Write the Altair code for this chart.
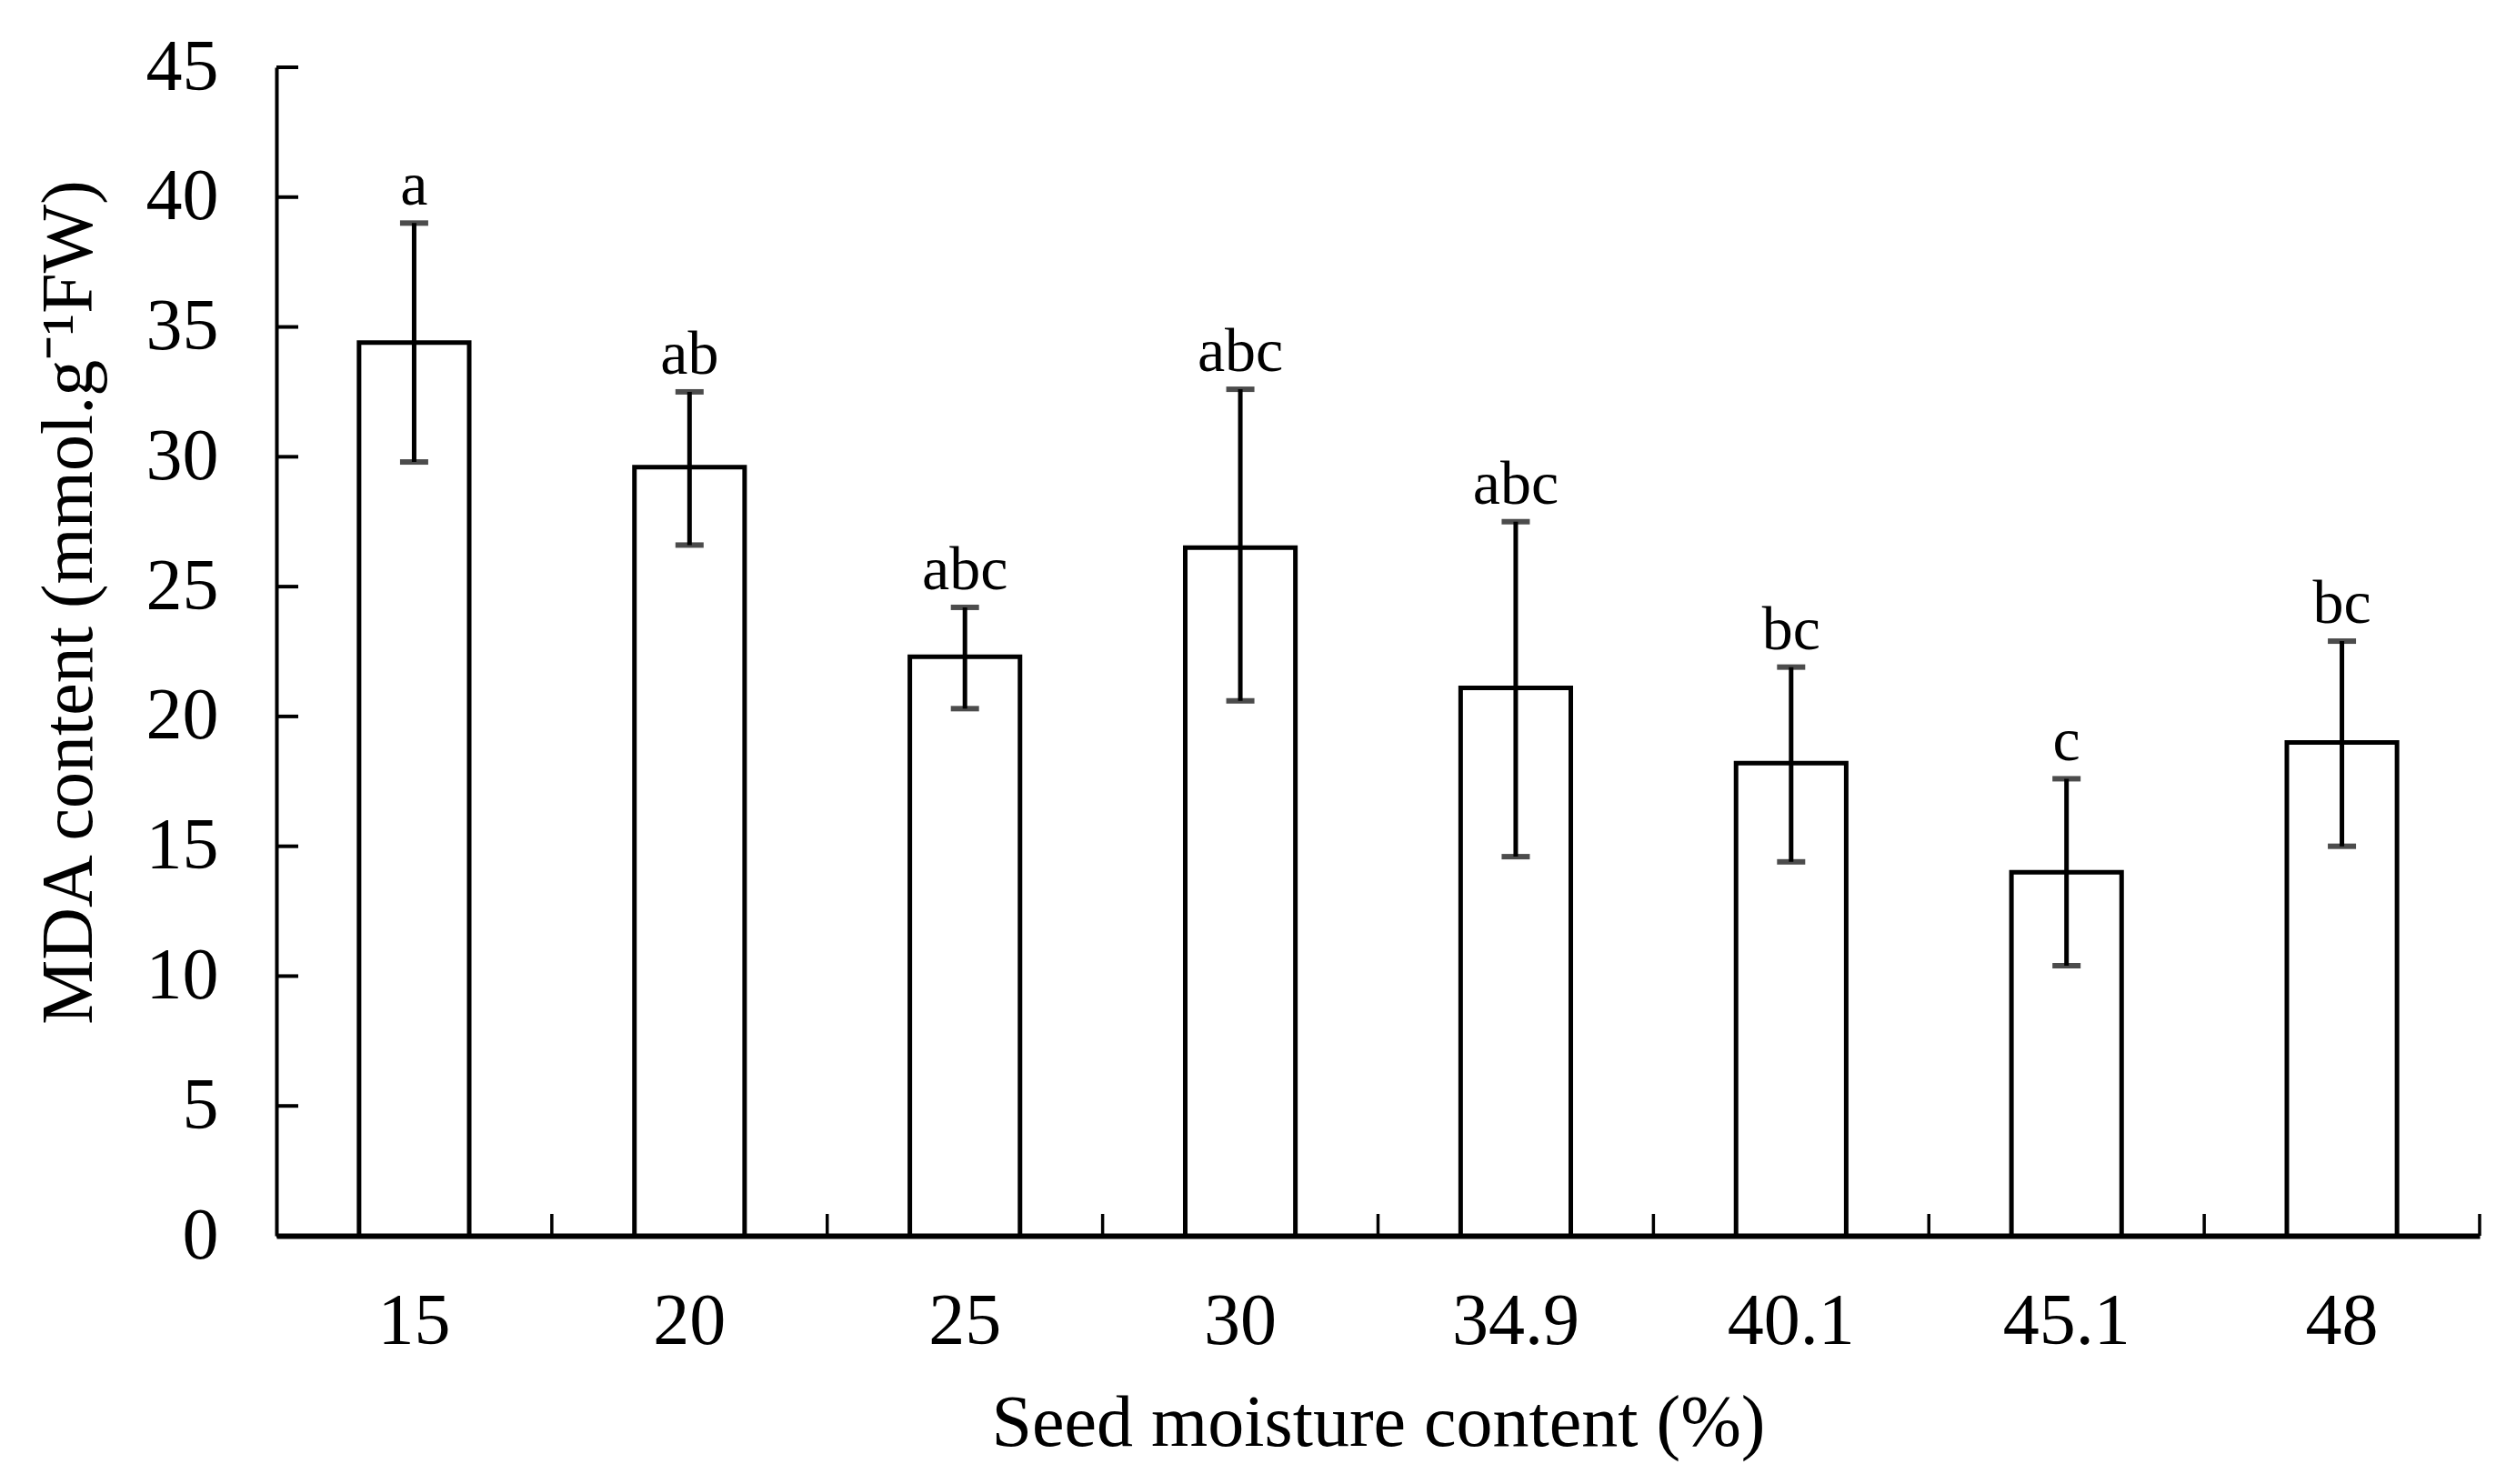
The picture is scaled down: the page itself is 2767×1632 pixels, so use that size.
import altair as alt
import pandas as pd

categories = ["15", "20", "25", "30", "34.9", "40.1", "45.1", "48"]
means = [34.4, 29.6, 22.3, 26.5, 21.1, 18.2, 14.0, 19.0]
err_hi = [39.0, 32.5, 24.2, 32.6, 27.5, 21.9, 17.6, 22.9]
err_lo = [29.8, 26.6, 20.3, 20.6, 14.6, 14.4, 10.4, 15.0]
letters = ["a", "ab", "abc", "abc", "abc", "bc", "c", "bc"]
y_ticks = [0, 5, 10, 15, 20, 25, 30, 35, 40, 45]

df = pd.DataFrame({"cat": categories, "mean": means, "hi": err_hi, "lo": err_lo, "lab": letters})
ticks_df = pd.DataFrame({"v": y_ticks})

FONT = "Liberation Serif"
W, H = 2423, 1285

xscale = alt.Scale(domain=categories, paddingInner=0, paddingOuter=0)
yscale = alt.Scale(domain=[0, 45], nice=False, zero=True)

x_enc = alt.X("cat:N", scale=xscale, sort=categories,
              axis=alt.Axis(title="Seed moisture content (%)", labelAngle=0, ticks=False, tickSize=0,
                            labelPadding=55, titlePadding=33, domain=True, domainColor="black",
                            domainWidth=6, labelFontSize=80, titleFontSize=80, labelFont=FONT,
                            titleFont=FONT, labelColor="black", titleColor="black",
                            titleFontWeight="normal", grid=False))
y_enc = alt.Y("mean:Q", scale=yscale,
              axis=alt.Axis(title="MDA content (mmol.g\u207b\u00b9FW)", values=y_ticks, ticks=False,
                            tickSize=0, labelPadding=64, domainColor="black", domainWidth=4,
                            labelFontSize=80, titleFontSize=80, labelFont=FONT, titleFont=FONT,
                            labelColor="black", titleColor="black", titleFontWeight="normal",
                            grid=False, titleX=-228, titleY=588, titleBaseline="middle",
                            titleAngle=-90, titleAlign="center"))

base = alt.Chart(df)

bars = base.mark_bar(fill="white", stroke="black", strokeWidth=5,
                     width=alt.RelativeBandSize(0.4)).encode(x=x_enc, y=y_enc)

rules = base.mark_rule(color="black", strokeWidth=5).encode(
    x=alt.X("cat:N", scale=xscale, sort=categories),
    y=alt.Y("lo:Q", scale=yscale), y2="hi:Q")

cap_hi = base.mark_tick(color="black", thickness=6, size=31).encode(
    x=alt.X("cat:N", scale=xscale, sort=categories), y=alt.Y("hi:Q", scale=yscale))
cap_lo = base.mark_tick(color="black", thickness=6, size=31).encode(
    x=alt.X("cat:N", scale=xscale, sort=categories), y=alt.Y("lo:Q", scale=yscale))

labels = base.mark_text(font=FONT, fontSize=68, color="black", baseline="bottom", dy=-6).encode(
    x=alt.X("cat:N", scale=xscale, sort=categories), y=alt.Y("hi:Q", scale=yscale), text="lab:N")

xticks = base.mark_rule(color="black", strokeWidth=3.5).encode(
    x=alt.X("cat:N", scale=xscale, sort=categories, bandPosition=1),
    y=alt.value(H), y2=alt.value(H - 24))

yticks = alt.Chart(ticks_df).mark_rule(color="black", strokeWidth=4).encode(
    y=alt.Y("v:Q", scale=yscale), x=alt.value(0), x2=alt.value(24))

chart = alt.layer(bars, rules, cap_hi, cap_lo, labels, xticks, yticks).properties(
    width=W, height=H,
    background="white",
    autosize=alt.AutoSizeParams(type="none"),
    padding={"left": 296, "top": 66, "right": 32, "bottom": 265},
).configure_view(stroke=None, strokeWidth=0)

chart.save("out.html", embed_options={"renderer": "svg", "actions": False})
